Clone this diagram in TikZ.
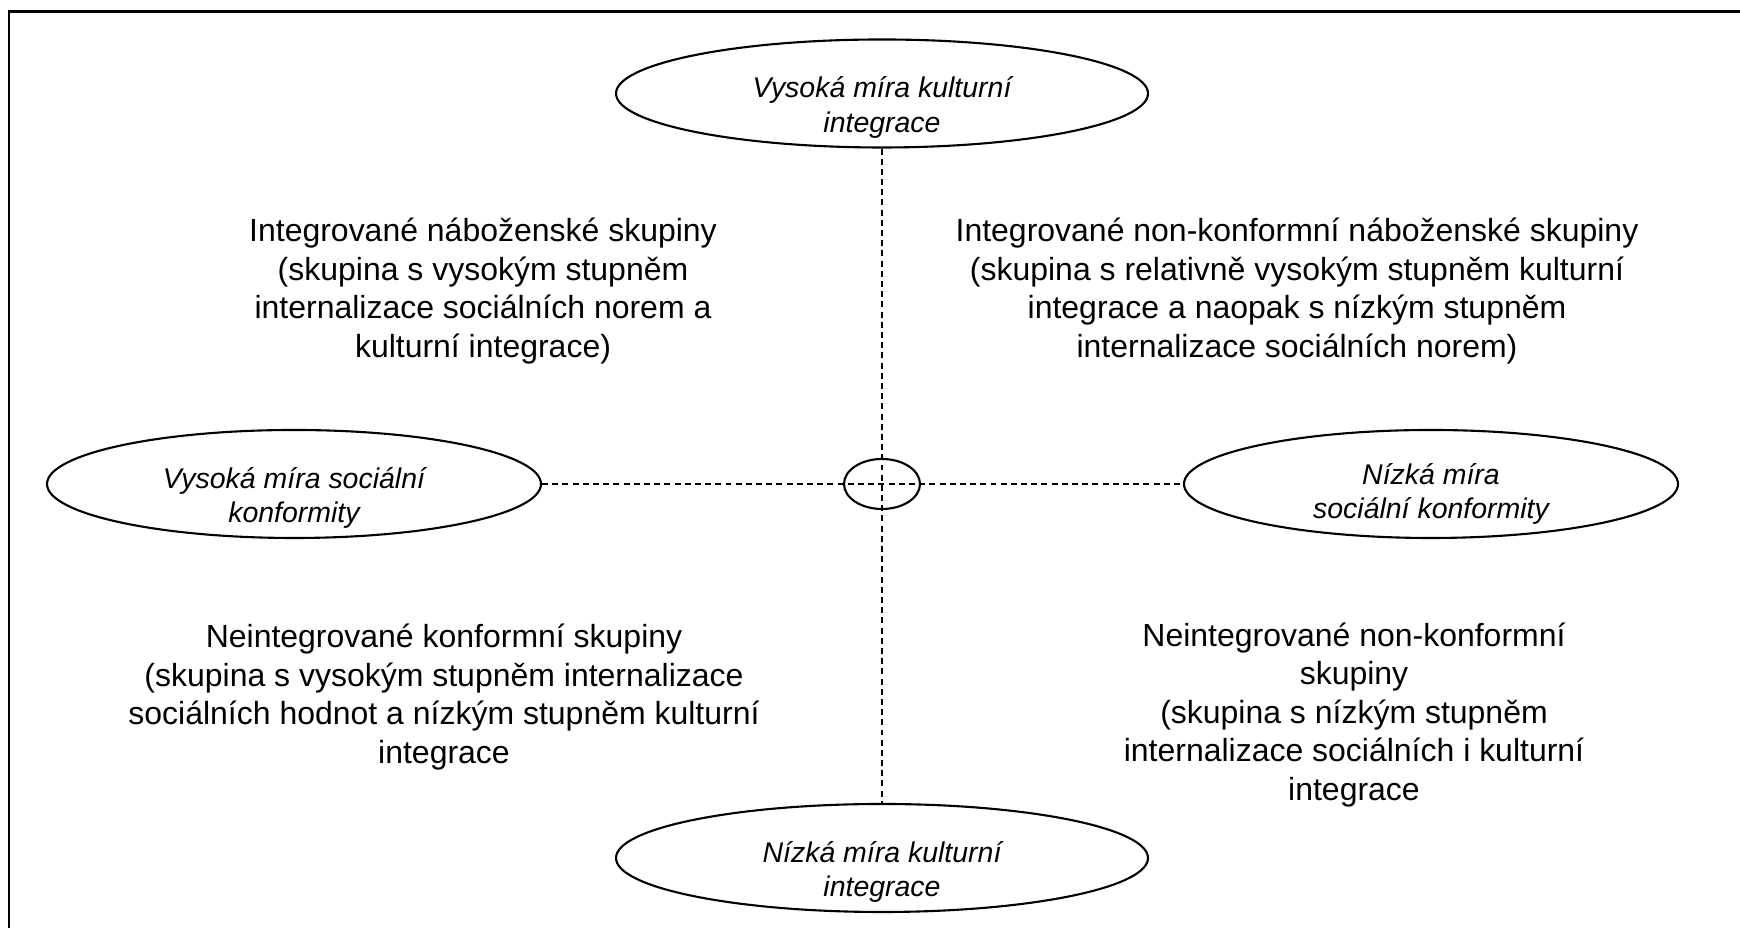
\documentclass[tikz,border=0pt]{standalone}
\usepackage{fontspec}
\setmainfont{Liberation Sans}
\usetikzlibrary{shapes.geometric}

\begin{document}
\begin{tikzpicture}[
  oval/.style={draw, ellipse, line width=0.6pt, inner sep=0pt},
  ovaltext/.style={align=center, font=\itshape\fontsize{8.1}{9.8}\selectfont},
  quad/.style={align=center, font=\fontsize{9.1}{10.95}\selectfont},
  guide/.style={line width=0.45pt, dash pattern=on 1.7pt off 1.2pt}]
\useasboundingbox (0,0) rectangle (17.4,-9.28);
\draw[line width=0.85pt] (0.09,-9.28) -- (0.09,-0.12) -- (17.4,-0.12);
% the four poles and the middle
\node[oval, minimum width=5.32cm, minimum height=1.08cm] (kulthi) at (8.82,-0.935) {};
\node[ovaltext] (kulthitxt) at ([yshift=-0.14cm]kulthi.center) {Vysoká míra kulturní\\integrace};
\node[oval, minimum width=5.32cm, minimum height=1.08cm] (kultlo) at (8.82,-8.58) {};
\node[ovaltext] (kultlotxt) at ([yshift=-0.14cm]kultlo.center) {Nízká míra kulturní\\integrace};
\node[oval, minimum width=4.94cm, minimum height=1.08cm] (sochi) at (2.94,-4.84) {};
\node[ovaltext] (sochitxt) at ([yshift=-0.14cm]sochi.center) {Vysoká míra sociální\\konformity};
\node[oval, minimum width=4.94cm, minimum height=1.08cm] (soclo) at (14.31,-4.84) {};
\node[ovaltext] (soclotxt) at ([yshift=-0.10cm]soclo.center) {Nízká míra\\sociální konformity};
\node[oval, minimum width=0.76cm, minimum height=0.5cm] (mid) at (8.82,-4.84) {};
\draw[guide] (kulthi) -- (kultlo);
\draw[guide] (sochi) -- (soclo);
% quadrants
\node[quad] (intrel) at (4.83,-2.91) {Integrované náboženské skupiny\\(skupina s vysokým stupněm\\internalizace sociálních norem a\\kulturní integrace)};
\node[quad] (intnon) at (12.97,-2.91) {Integrované non-konformní náboženské skupiny\\(skupina s relativně vysokým stupněm kulturní\\integrace a naopak s nízkým stupněm\\internalizace sociálních norem)};
\node[quad] (neikon) at (4.44,-6.97) {Neintegrované konformní skupiny\\(skupina s vysokým stupněm internalizace\\sociálních hodnot a nízkým stupněm kulturní\\integrace};
\node[quad] (neinon) at (13.54,-7.15) {Neintegrované non-konformní\\skupiny\\(skupina s nízkým stupněm\\internalizace sociálních i kulturní\\integrace};
\end{tikzpicture}
\end{document}
